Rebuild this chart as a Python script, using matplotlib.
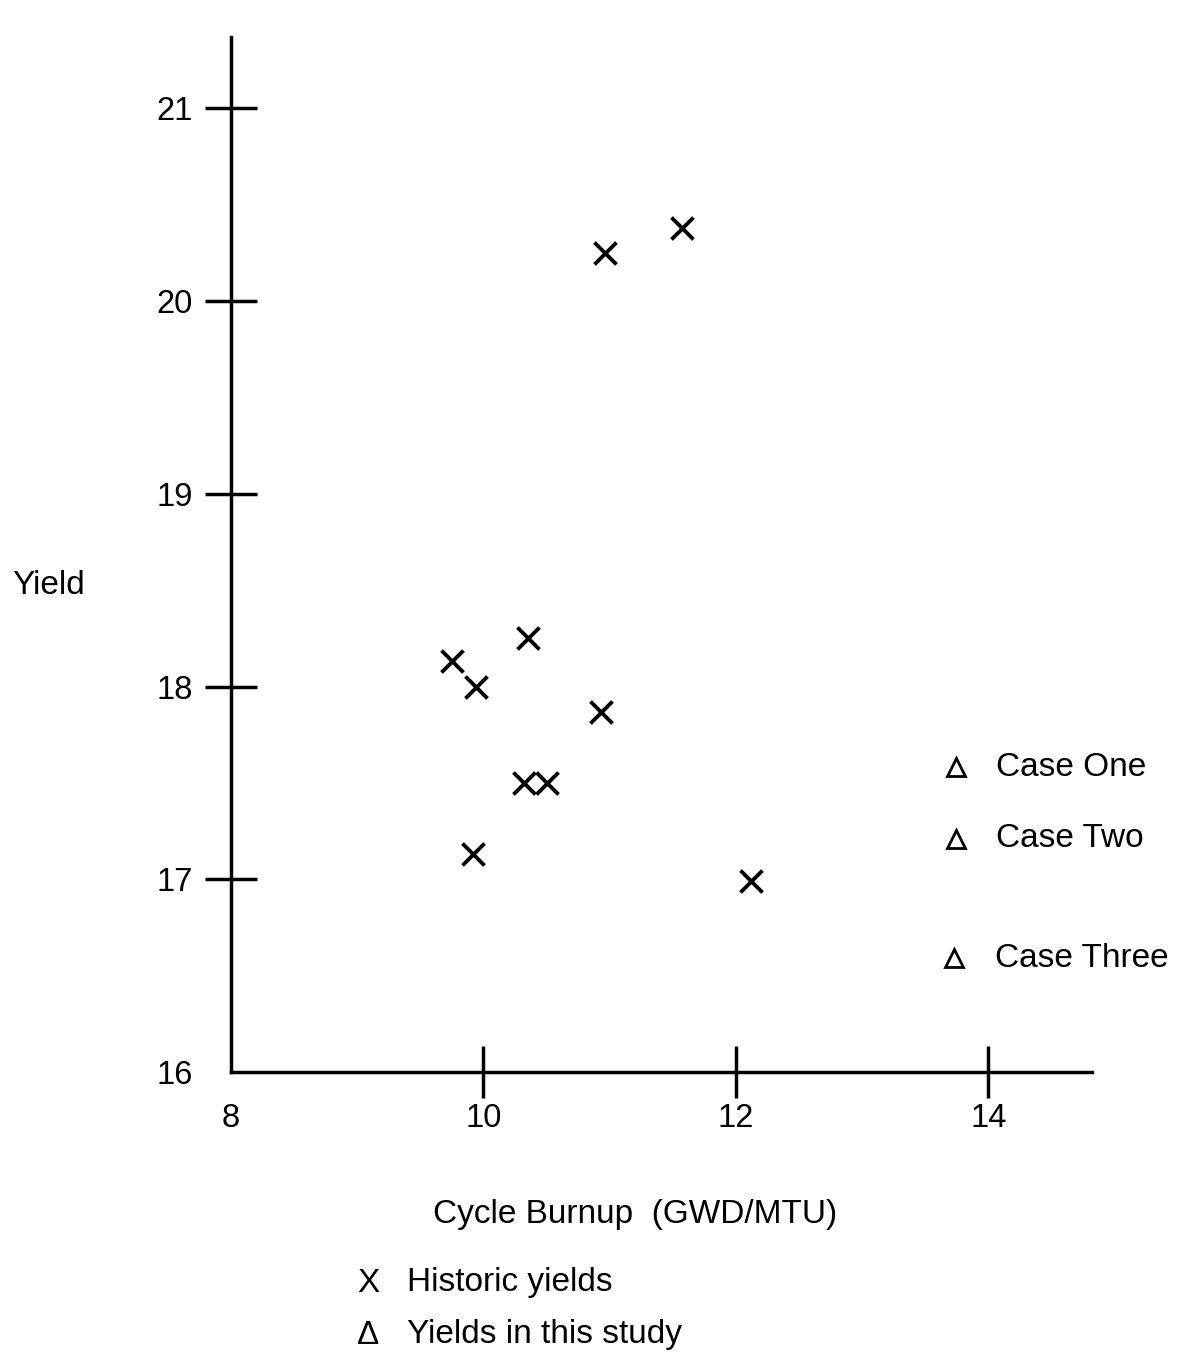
import matplotlib
matplotlib.use('Agg')
import matplotlib.pyplot as plt

# historic yields (X marks)
hist_burnup = [10.96, 11.57, 9.75, 9.94, 10.35, 10.93, 10.32, 10.50, 9.92, 12.12]
hist_yield = [20.25, 20.38, 18.13, 18.00, 18.25, 17.87, 17.50, 17.50, 17.13, 16.99]

# yields in this study (triangles)
case_names = ['Case One', 'Case Two', 'Case Three']
case_burnup = [13.74, 13.74, 13.73]
case_yield = [17.58, 17.21, 16.59]

xticks = [8, 10, 12, 14]
yticks = [16, 17, 18, 19, 20, 21]

plt.rcParams['font.family'] = ['Liberation Sans', 'DejaVu Sans']

W, H = 1179, 1359
fig = plt.figure(figsize=(W / 100, H / 100), dpi=100)
ax = fig.add_axes([231 / W, (H - 1072) / H, (1092 - 231) / W, (1072 - 37) / H])
ax.set_xlim(8, 14.82)
ax.set_ylim(16, 21.37)

for s in ['top', 'right']:
    ax.spines[s].set_visible(False)
for s in ['left', 'bottom']:
    ax.spines[s].set_linewidth(2.5)

ax.set_xticks(xticks)
ax.set_yticks(yticks)
ax.tick_params(direction='inout', length=37, width=2.5, labelsize=23.5)
ax.tick_params(axis='x', pad=4)
ax.tick_params(axis='y', pad=9)
ax.xaxis.get_major_ticks()[0].tick1line.set_visible(False)
ax.yaxis.get_major_ticks()[0].tick1line.set_visible(False)

ax.scatter(hist_burnup, hist_yield, marker='x', s=250, c='black', linewidths=2.8, clip_on=False)
ax.plot(case_burnup, case_yield, linestyle='none', marker='^', markersize=13,
        mfc='none', mec='black', mew=2.0, clip_on=False)
for name, bx, by in zip(case_names, case_burnup, case_yield):
    ax.text(bx + 0.32, by, name, fontsize=24, va='center', ha='left', clip_on=False)

fig.text(12 / W, 1 - 585 / H, 'Yield', fontsize=24, ha='left', va='center')
fig.text(635 / W, 1 - 1215 / H, 'Cycle Burnup  (GWD/MTU)', fontsize=24, ha='center', va='center')

fig.text(368 / W, 1 - 1283 / H, 'X', fontsize=24, ha='center', va='center')
fig.text(407 / W, 1 - 1283 / H, 'Historic yields', fontsize=24, ha='left', va='center')
fig.text(368 / W, 1 - 1335 / H, '\u0394', fontsize=24, ha='center', va='center')
fig.text(407 / W, 1 - 1335 / H, 'Yields in this study', fontsize=24, ha='left', va='center')

fig.savefig('out.png', dpi=100, facecolor='white')
